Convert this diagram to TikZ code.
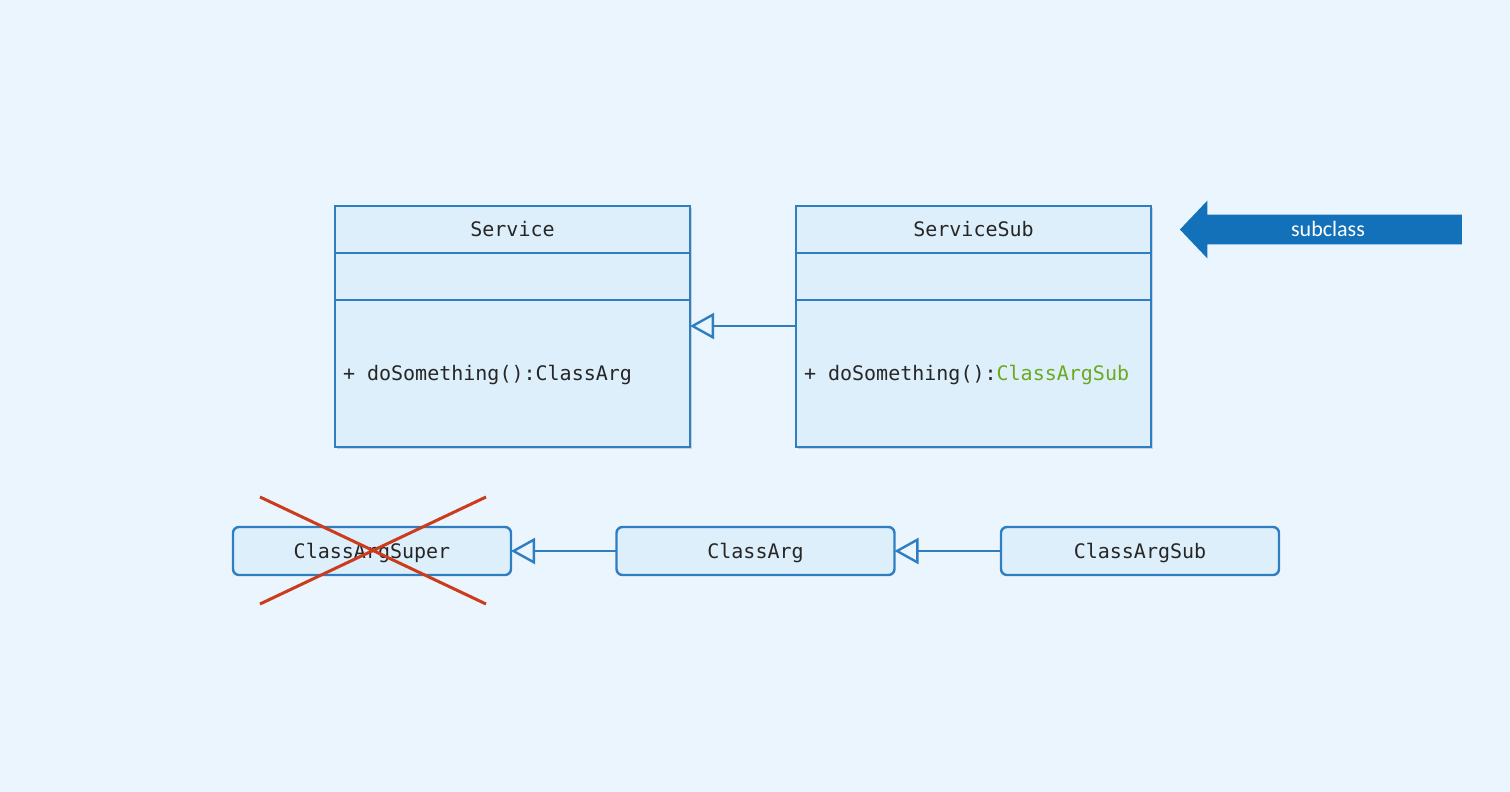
\documentclass[tikz,border=0pt]{standalone}
\usepackage{fontspec}
\setmonofont{DejaVu Sans Mono}
\newfontfamily\calfont{Carlito}
\usetikzlibrary{positioning, arrows.meta, shapes.arrows, shadows}
\definecolor{bgblue}{HTML}{EAF5FD}
\definecolor{boxfill}{HTML}{DDEFFB}
\definecolor{boxline}{HTML}{2F7EC1}
\definecolor{arrowblue}{HTML}{1271B9}
\definecolor{retgreen}{HTML}{6BA91F}
\definecolor{crossred}{HTML}{CC3B1B}
\begin{document}
\begin{tikzpicture}[x=0.5pt, y=-0.5pt, >={Triangle[open, length=12pt, width=13pt]},
	uml/.style={draw=boxline, fill=boxfill, line width=1.2pt, minimum width=177.5pt, inner sep=0pt, outer sep=0pt, text=black!85,
		text height=7.3pt, text depth=0pt, font=\ttfamily\fontsize{10}{12}\selectfont,
		drop shadow={opacity=0.3, shadow xshift=0.8pt, shadow yshift=-0.8pt}},
	umlhead/.style={uml, minimum height=23.5pt},
	umlattr/.style={uml, minimum height=23.5pt},
	umlmeth/.style={uml, minimum height=73.5pt, text width=169.5pt, inner xsep=4pt, align=left},
	argbox/.style={draw=boxline, fill=boxfill, line width=1.2pt, rounded corners=3pt, minimum width=139pt, minimum height=24pt,
		outer sep=0pt, text=black!85, text height=7.3pt, text depth=0pt, font=\ttfamily\fontsize{10}{12}\selectfont},
	inherit/.style={->, draw=boxline, line width=1.2pt}]
	\fill[bgblue] (0, 0) rectangle (1510, 792);
	% classes
	\node[umlhead] (svc) at (512.5, 229.5) {Service};
	\node[umlattr, below=0pt of svc] (svcattr) {};
	\node[umlmeth, below=0pt of svcattr] (svcmeth) {+\hspace{6.02pt}doSomething():ClassArg};
	\node[umlhead] (sub) at (973.5, 229.5) {ServiceSub};
	\node[umlattr, below=0pt of sub] (subattr) {};
	\node[umlmeth, below=0pt of subattr] (submeth) {+\hspace{6.02pt}doSomething():\textcolor{retgreen}{ClassArgSub}};
	\draw[inherit] ([yshift=-13pt]submeth.north west) -- ([yshift=-13pt]svcmeth.north east);
	\node[single arrow, fill=arrowblue, shape border rotate=180, minimum height=141pt, minimum width=28.5pt,
		single arrow head extend=7pt, single arrow tip angle=93, inner xsep=0pt, inner ysep=2.75pt,
		text height=8pt, text depth=1pt, text=white, font=\calfont\fontsize{11}{13}\selectfont] (subarrow) at (1328, 229.5) {subclass};
	% argument types
	\node[argbox] (argsuper) at (372, 551) {ClassArgSuper};
	\node[argbox] (arg) at (755.5, 551) {ClassArg};
	\node[argbox] (argsub) at (1140, 551) {ClassArgSub};
	\draw[inherit] (arg) -- (argsuper);
	\draw[inherit] (argsub) -- (arg);
	\draw[crossred, line width=1.5pt] (260, 497) -- (486, 604) (260, 604) -- (486, 497);
\end{tikzpicture}
\end{document}
